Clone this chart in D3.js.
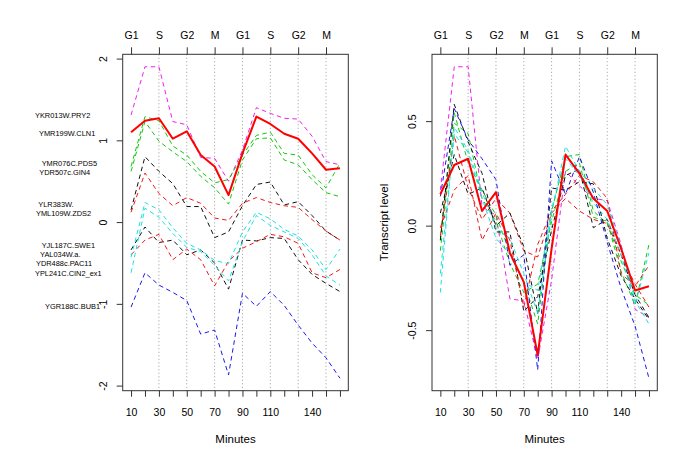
<!DOCTYPE html>
<html><head><meta charset="utf-8">
<script src="https://cdn.jsdelivr.net/npm/d3@7"></script>
<style>
body{margin:0;background:#fff}
svg{display:block}
text{font-family:"Liberation Sans",Arial,Helvetica,sans-serif;fill:#000}
</style>
</head><body>
<svg id="chart" width="685" height="460"></svg>
<script>
// ---------- data ----------
const minutes = [10,20,30,40,50,60,70,80,90,100,110,120,130,140,150,160];
const minuteTickLabels = [10,30,50,70,90,110,140];
const phaseTicks = [10,30,50,70,90,110,130,150];
const phaseLabels = ["G1","S","G2","M","G1","S","G2","M"];
const leftYTicks = [-2,-1,0,1,2];
const rightYTicks = [-0.5,0,0.5];
const rightYTickLabels = ["-0.5","0.0","0.5"];

const geneNames = ["YKR013W.PRY2","YMR199W.CLN1","YMR076C.PDS5","YDR507c.GIN4","YLR383W.","YML109W.ZDS2",
  "YJL187C.SWE1","YAL034W.a.","YDR488c.PAC11","YPL241C.CIN2_ex1","YGR188C.BUB1"];
const geneLabelLevels = [1.31,1.09,0.715,0.605,0.215,0.105,-0.29,-0.395,-0.505,-0.63,-1.03];

// left panel: expression levels (offset per gene)
const levelPRY2  = [1.31,1.90,1.90,1.23,1.19,0.79,0.78,0.50,0.88,1.40,1.33,1.27,1.26,1.05,0.74,0.70];
const levelCLN1  = [1.10,1.24,1.27,1.02,1.11,0.82,0.68,0.33,0.84,1.29,1.20,1.08,1.02,0.84,0.64,0.66];
const levelPDS5  = [0.68,1.29,1.24,0.93,0.82,0.62,0.48,0.52,0.82,1.06,1.10,0.84,0.82,0.58,0.42,0.72];
const levelGIN4  = [0.62,1.23,0.99,0.86,0.74,0.56,0.42,0.22,0.76,1.02,1.03,0.76,0.70,0.52,0.36,0.31];
const levelYLR383W = [0.15,0.80,0.62,0.47,0.19,0.19,-0.19,-0.12,0.20,0.46,0.49,0.21,0.25,0.08,-0.11,-0.22];
const levelZDS2  = [0.12,0.60,0.35,0.20,0.30,0.23,0.05,0.02,0.23,0.30,0.24,0.20,0.18,0.03,-0.11,-0.22];
const levelSWE1  = [-0.34,-0.06,-0.25,-0.22,-0.40,-0.34,-0.50,-0.82,-0.22,-0.23,-0.19,-0.20,-0.46,-0.64,-0.75,-0.85];
const levelYAL034W = [-0.40,-0.22,-0.15,-0.46,-0.33,-0.46,-0.78,-0.48,-0.32,-0.24,-0.15,-0.18,-0.26,-0.62,-0.68,-0.58];
const levelPAC11 = [-0.43,0.24,0.15,-0.07,-0.26,-0.34,-0.47,-0.51,-0.12,0.12,0.04,-0.09,-0.17,-0.34,-0.58,-0.33];
const levelCIN2  = [-0.62,0.17,0.06,-0.14,-0.31,-0.36,-0.53,-0.72,-0.24,0.08,-0.04,-0.12,-0.20,-0.40,-0.66,-0.77];
const levelBUB1  = [-1.04,-0.62,-0.77,-0.86,-0.96,-1.37,-1.32,-1.87,-0.87,-1.03,-0.85,-1.02,-1.26,-1.48,-1.66,-1.91];

// right panel: centred transcript levels
const centredPRY2  = [0.17,0.76,0.76,0.09,0.05,-0.35,-0.36,-0.64,-0.26,0.26,0.19,0.13,0.12,-0.09,-0.40,-0.44];
const centredCLN1  = [0.15,0.29,0.32,0.07,0.16,-0.13,-0.27,-0.62,-0.11,0.34,0.25,0.13,0.07,-0.11,-0.31,-0.29];
const centredPDS5  = [-0.12,0.49,0.44,0.13,0.02,-0.18,-0.32,-0.28,0.02,0.26,0.30,0.04,0.02,-0.22,-0.38,-0.09];
const centredGIN4  = [-0.07,0.54,0.30,0.17,0.05,-0.13,-0.27,-0.47,0.07,0.33,0.34,0.07,0.01,-0.17,-0.33,-0.38];
const centredYLR383W = [-0.07,0.58,0.40,0.25,-0.03,-0.03,-0.41,-0.34,-0.02,0.24,0.27,-0.01,0.03,-0.14,-0.33,-0.44];
const centredZDS2  = [-0.05,0.43,0.18,0.03,0.13,0.06,-0.12,-0.15,0.06,0.13,0.07,0.03,0.01,-0.14,-0.28,-0.39];
const centredSWE1  = [0.06,0.34,0.15,0.18,0.00,0.06,-0.10,-0.42,0.18,0.17,0.21,0.20,-0.06,-0.24,-0.35,-0.45];
const centredYAL034W = [-0.01,0.17,0.24,-0.07,0.06,-0.07,-0.39,-0.09,0.07,0.15,0.24,0.21,0.13,-0.23,-0.29,-0.19];
const centredPAC11 = [-0.23,0.44,0.35,0.13,-0.06,-0.14,-0.27,-0.31,0.08,0.32,0.24,0.11,0.03,-0.14,-0.38,-0.13];
const centredCIN2  = [-0.32,0.47,0.36,0.16,-0.01,-0.06,-0.23,-0.42,0.06,0.38,0.26,0.18,0.10,-0.10,-0.36,-0.47];
const centredBUB1  = [0.14,0.56,0.41,0.32,0.22,-0.19,-0.14,-0.69,0.31,0.15,0.33,0.16,-0.08,-0.30,-0.48,-0.73];

// ---------- styles ----------
const geneColors = ["#f020f0","#ff0000","#10c810","#10c810","#111111","#f01818",
  "#111111","#f01818","#20e0e0","#20e0e0","#1818f0"];
const highlightIndex = 1; // CLN1 drawn solid
const labelX = [35,39,41.7,39.3,38.3,36,41.7,40,36,35,45];

const leftSeries = [levelPRY2,levelCLN1,levelPDS5,levelGIN4,levelYLR383W,levelZDS2,levelSWE1,levelYAL034W,levelPAC11,levelCIN2,levelBUB1];
const rightSeries = [centredPRY2,centredCLN1,centredPDS5,centredGIN4,centredYLR383W,centredZDS2,centredSWE1,centredYAL034W,centredPAC11,centredCIN2,centredBUB1];

const svg = d3.select("#chart");
const plotTop = 54.3, plotBottom = 390.7;

function padded(ext){ const r = ext[1]-ext[0]; return [ext[0]-0.04*r, ext[1]+0.04*r]; }

function panel(left, right, series, yTicks, yTickLabels){
  const x = d3.scaleLinear().domain(padded(d3.extent(minutes))).range([left, right]);
  const y = d3.scaleLinear().domain(padded(d3.extent(series.flat()))).range([plotBottom, plotTop]);
  const g = svg.append("g");

  g.selectAll(".vl").data(phaseTicks.slice(1)).join("line")
    .attr("x1", d=>x(d)).attr("x2", d=>x(d)).attr("y1", plotTop).attr("y2", plotBottom)
    .attr("stroke","#999").attr("stroke-width",1).attr("stroke-dasharray","1,2.5");

  const line = d3.line().x((d,i)=>x(minutes[i])).y(d=>y(d));
  series.forEach((s,i)=>{
    if(i===highlightIndex) return;
    g.append("path").attr("d", line(s)).attr("fill","none")
      .attr("stroke", geneColors[i]).attr("stroke-width",1).attr("stroke-dasharray","4.5,3.5");
  });
  g.append("path").attr("d", line(series[highlightIndex])).attr("fill","none")
    .attr("stroke", geneColors[highlightIndex]).attr("stroke-width",2).attr("stroke-linejoin","round");

  g.append("rect").attr("x",left).attr("y",plotTop).attr("width",right-left).attr("height",plotBottom-plotTop)
    .attr("fill","none").attr("stroke","#333").attr("stroke-width",1);

  const bx = d3.axisBottom(x).tickValues(minutes).tickSize(6).tickFormat(d=>minuteTickLabels.includes(d)?d:"");
  const ba = g.append("g").attr("transform",`translate(0,${plotBottom})`).call(bx);
  ba.select(".domain").remove();
  ba.selectAll(".tick line").attr("stroke","#333");
  ba.selectAll("text").attr("font-size",10.5).attr("font-family",'"Liberation Sans",Arial,sans-serif').attr("dy",0).attr("y",25.5).attr("fill","#111");

  const tx = d3.axisTop(x).tickValues(phaseTicks).tickSize(7).tickFormat((d,i)=>phaseLabels[i]);
  const ta = g.append("g").attr("transform",`translate(0,${plotTop})`).call(tx);
  ta.select(".domain").remove();
  ta.selectAll(".tick line").attr("stroke","#333");
  ta.selectAll("text").attr("font-size",10.5).attr("font-family",'"Liberation Sans",Arial,sans-serif').attr("dy",0).attr("y",-15).attr("fill","#111");

  const ly = d3.axisLeft(y).tickValues(yTicks).tickSize(6).tickFormat((d,i)=>yTickLabels[i]);
  const la = g.append("g").attr("transform",`translate(${left},0)`).call(ly);
  la.select(".domain").remove();
  la.selectAll(".tick line").attr("stroke","#333");
  la.selectAll("text").attr("font-size",10.5).attr("font-family",'"Liberation Sans",Arial,sans-serif')
    .attr("x",null).attr("dy",0).attr("text-anchor","middle").attr("fill","#111")
    .attr("transform","translate(-16,0) rotate(-90)");

  g.append("text").attr("x",(left+right)/2).attr("y",442.5).attr("text-anchor","middle")
    .attr("font-size",11.5).text("Minutes");
  return {x,y};
}

const L = panel(122.7, 348.3, leftSeries, leftYTicks, leftYTicks.map(String));
const R = panel(432, 657.3, rightSeries, rightYTicks, rightYTickLabels);

svg.append("g").selectAll("text").data(geneNames).join("text")
  .attr("x",(d,i)=>labelX[i]).attr("y",(d,i)=>L.y(geneLabelLevels[i])).attr("dy","0.35em")
  .attr("font-size",7.4).attr("fill","#111").text(d=>d);

svg.append("text").attr("transform",`translate(388,${(plotTop+plotBottom)/2}) rotate(-90)`)
  .attr("text-anchor","middle").attr("font-size",11.5).text("Transcript level");
</script>
</body></html>
